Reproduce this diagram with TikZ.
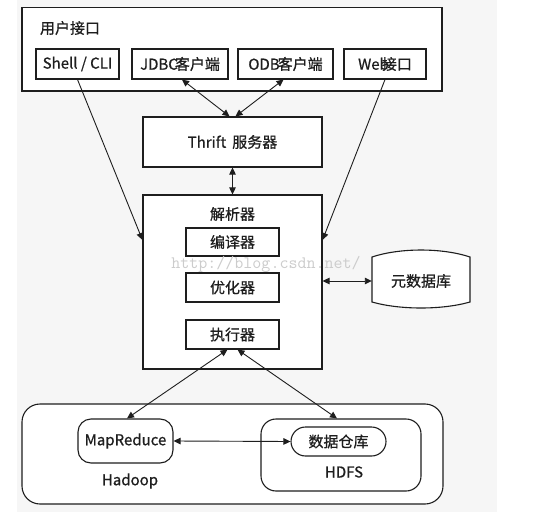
\documentclass[tikz,border=0pt]{standalone}
\usepackage{fontspec}
\setmainfont{Noto Sans CJK SC}[FakeBold=0.7]
\usetikzlibrary{arrows.meta,calc}
\definecolor{panel}{HTML}{F6F6F6}
\definecolor{ink}{HTML}{1E1E1E}
\tikzset{
  box/.style={draw=ink, line width=1.1pt, fill=white, inner sep=0pt, text=ink, font=\fontsize{15}{17}\selectfont},
  rbox/.style={box, rounded corners=13pt},
  lbl/.style={inner sep=0pt, font=\fontsize{15}{17}\selectfont, text=ink},
  both/.style={draw=ink, line width=0.9pt, {Triangle[length=7pt,width=6.5pt]}-{Triangle[length=7pt,width=6.5pt]}},
  one/.style={draw=ink, line width=0.9pt, -{Triangle[length=7pt,width=6.5pt]}}
}
\begin{document}
\begin{tikzpicture}[x=1pt,y=-1pt]
\useasboundingbox (0,0) rectangle (553,518);
\fill[white] (0,0) rectangle (553,518);
\fill[panel] (17,0) rectangle (497,512);

% user interface
\node[box, minimum width=420pt, minimum height=83.5pt] (ui) at (232,49.25) {};
\node[lbl] (uilabel) at (70,28) {用户接口};
\node[box, minimum width=83pt, minimum height=30pt] (shell) at (77.5,64) {Shell / CLI};
\node[box, minimum width=96pt, minimum height=30pt] (jdbc) at (180,64) {JDBC\kern-3pt 客户端};
\node[box, minimum width=95pt, minimum height=30pt] (odbc) at (285.5,64) {ODB\kern-2pt 客户端};
\node[box, minimum width=82pt, minimum height=30pt] (web) at (385,64) {Web\kern-7pt 接口};

% thrift
\node[box, minimum width=179pt, minimum height=50pt] (thrift) at (232.5,142) {Thrift\hspace{6pt}服务器};

% parser
\node[box, minimum width=179pt, minimum height=174pt] (parser) at (232.5,282) {};
\node[lbl] (parserlabel) at (232.5,214) {解析器};
\node[box, minimum width=93pt, minimum height=28pt] (compiler) at (232.5,242) {编译器};
\node[box, minimum width=93pt, minimum height=29pt] (optimizer) at (232.5,287.5) {优化器};
\node[box, minimum width=93pt, minimum height=29pt] (executor) at (232.5,334.5) {执行器};

% metastore
\draw[draw=ink, line width=1.1pt, fill=white] (372,257) .. controls (400,247.7) and (442,247.7) .. (470,257) -- (470,302) .. controls (442,310) and (400,310) .. (372,302) -- cycle;
\node[lbl, minimum width=98pt, minimum height=50pt] (meta) at (421,281) {元数据库};

% hadoop
\node[box, rounded corners=18pt, minimum width=421pt, minimum height=100pt] (hadoop) at (232.5,454) {};
\node[lbl] (hadooplabel) at (130,481) {Hadoop};
\node[rbox, minimum width=95pt, minimum height=44pt] (mapreduce) at (125.5,441) {MapReduce};
\node[box, rounded corners=15pt, minimum width=160pt, minimum height=72pt] (hdfs) at (341,455) {};
\node[lbl] (hdfslabel) at (344,472) {HDFS};
\node[box, rounded corners=14.5pt, minimum width=95pt, minimum height=29pt] (warehouse) at (338.5,441.5) {数据仓库};

% watermark
\node[inner sep=0pt, font=\ttfamily\fontsize{17.5}{17.5}\selectfont, text=black!20] (wm) at (266,264) {http://blog.csdn.net/};

% connectors
\draw[one] (shell.south) -- ($(parser.north west)!0.26!(parser.south west)$);
\draw[one] (web.south) -- ($(parser.north east)!0.26!(parser.south east)$);
\draw[both] ($(jdbc.south)+(2,0)$) -- ($(thrift.north)+(-3,0)$);
\draw[both] ($(odbc.south)+(-2,0)$) -- ($(thrift.north)+(3,0)$);
\draw[both] (thrift.south) -- (parser.north);
\draw[both] (parser.east |- meta.west) -- (meta.west);
\draw[both] ($(executor.south)+(-5,0)$) -- ($(mapreduce.north)+(1.5,0)$);
\draw[both] ($(executor.south)+(5,0)$) -- ($(hdfs.north)+(-4,0)$);
\draw[both] (mapreduce.east) -- (warehouse.west);
\end{tikzpicture}
\end{document}
